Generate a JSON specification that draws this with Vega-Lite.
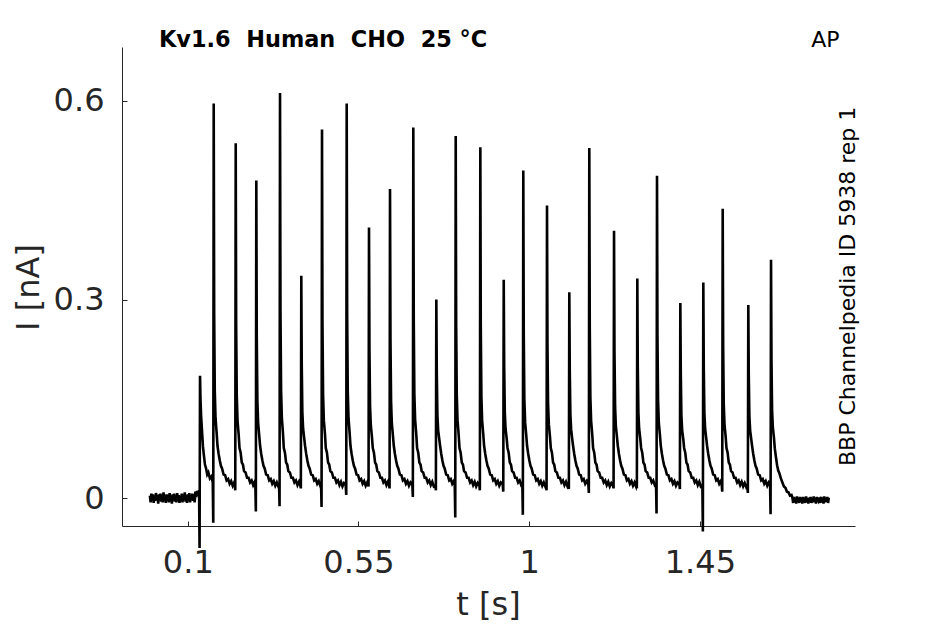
{
  "$schema": "https://vega.github.io/schema/vega-lite/v6.json",
  "width": 733,
  "height": 479,
  "autosize": {"type": "none"},
  "padding": {"left": 122, "top": 47, "right": 90, "bottom": 98},
  "background": "white",
  "config": {"view": {"stroke": null}, "font": "DejaVu Sans"},
  "title": {
    "text": "Kv1.6\u00a0 Human\u00a0 CHO\u00a0 25 °C",
    "anchor": "start",
    "frame": "group",
    "font": "DejaVu Sans",
    "fontSize": 22.4,
    "fontWeight": "bold",
    "color": "black",
    "baseline": "alphabetic",
    "offset": 0,
    "dx": 37,
    "dy": 40
  },
  "datasets": {
    "trace": [
      {"t":0.000,"i":0.004},{"t":0.002,"i":-0.006},{"t":0.004,"i":0.007},{"t":0.006,"i":-0.003},{"t":0.008,"i":0.006},
      {"t":0.010,"i":-0.007},{"t":0.012,"i":0.003},{"t":0.014,"i":-0.004},{"t":0.016,"i":0.008},{"t":0.018,"i":-0.002},
      {"t":0.020,"i":0.005},{"t":0.022,"i":-0.008},{"t":0.024,"i":0.006},{"t":0.026,"i":0.000},{"t":0.028,"i":0.007},
      {"t":0.030,"i":-0.005},{"t":0.032,"i":0.002},{"t":0.034,"i":-0.006},{"t":0.036,"i":0.009},{"t":0.038,"i":-0.003},
      {"t":0.040,"i":0.004},{"t":0.042,"i":-0.007},{"t":0.044,"i":0.006},{"t":0.046,"i":-0.001},{"t":0.048,"i":0.005},
      {"t":0.050,"i":-0.006},{"t":0.052,"i":0.008},{"t":0.054,"i":-0.004},{"t":0.056,"i":0.003},{"t":0.058,"i":-0.008},
      {"t":0.060,"i":0.006},{"t":0.062,"i":-0.002},{"t":0.064,"i":0.007},{"t":0.066,"i":-0.005},{"t":0.068,"i":0.004},
      {"t":0.070,"i":-0.006},{"t":0.072,"i":0.008},{"t":0.074,"i":-0.003},{"t":0.076,"i":0.005},{"t":0.078,"i":-0.007},
      {"t":0.080,"i":0.002},{"t":0.082,"i":-0.004},{"t":0.084,"i":0.007},{"t":0.086,"i":-0.006},{"t":0.088,"i":0.006},
      {"t":0.090,"i":-0.002},{"t":0.092,"i":0.009},{"t":0.094,"i":-0.005},{"t":0.096,"i":0.004},{"t":0.098,"i":-0.007},
      {"t":0.100,"i":0.006},{"t":0.102,"i":-0.003},{"t":0.104,"i":0.008},{"t":0.106,"i":-0.006},{"t":0.108,"i":0.005},
      {"t":0.110,"i":-0.001},{"t":0.112,"i":0.007},{"t":0.114,"i":-0.004},{"t":0.116,"i":0.006},{"t":0.118,"i":-0.006},
      {"t":0.120,"i":0.010},{"t":0.122,"i":0.002},{"t":0.124,"i":0.011},{"t":0.126,"i":0.004},{"t":0.128,"i":0.009},
      {"t":0.1297,"i":0.012},

      {"t":0.1310,"i":-0.075},{"t":0.1322,"i":0.185},{"t":0.1334,"i":0.150},{"t":0.1350,"i":0.125},{"t":0.1370,"i":0.106},
      {"t":0.1400,"i":0.078},{"t":0.1422,"i":0.066},{"t":0.1452,"i":0.051},{"t":0.1482,"i":0.045},{"t":0.1512,"i":0.036},
      {"t":0.1542,"i":0.039},{"t":0.1582,"i":0.030},{"t":0.1622,"i":0.033},{"t":0.1658,"i":0.024},

      {"t":0.1671,"i":-0.037},{"t":0.1683,"i":0.596},{"t":0.1695,"i":0.279},{"t":0.1711,"i":0.162},{"t":0.1731,"i":0.121},
      {"t":0.1761,"i":0.098},{"t":0.1783,"i":0.079},{"t":0.1813,"i":0.067},{"t":0.1843,"i":0.057},{"t":0.1873,"i":0.049},
      {"t":0.1903,"i":0.045},{"t":0.1943,"i":0.036},{"t":0.1983,"i":0.035},{"t":0.2023,"i":0.027},{"t":0.2063,"i":0.029},
      {"t":0.2103,"i":0.022},{"t":0.2143,"i":0.026},{"t":0.2183,"i":0.019},{"t":0.2223,"i":0.024},{"t":0.2238,"i":0.020},

      {"t":0.2251,"i":0.012},{"t":0.2263,"i":0.536},{"t":0.2275,"i":0.261},{"t":0.2291,"i":0.154},{"t":0.2311,"i":0.117},
      {"t":0.2341,"i":0.096},{"t":0.2363,"i":0.076},{"t":0.2393,"i":0.069},{"t":0.2423,"i":0.054},{"t":0.2453,"i":0.051},
      {"t":0.2483,"i":0.041},{"t":0.2523,"i":0.039},{"t":0.2563,"i":0.031},{"t":0.2603,"i":0.031},{"t":0.2643,"i":0.024},
      {"t":0.2683,"i":0.027},{"t":0.2723,"i":0.020},{"t":0.2763,"i":0.025},{"t":0.2781,"i":0.019},

      {"t":0.2794,"i":-0.020},{"t":0.2806,"i":0.480},{"t":0.2818,"i":0.244},{"t":0.2834,"i":0.148},{"t":0.2854,"i":0.114},
      {"t":0.2884,"i":0.094},{"t":0.2906,"i":0.079},{"t":0.2936,"i":0.067},{"t":0.2966,"i":0.057},{"t":0.2996,"i":0.049},
      {"t":0.3026,"i":0.045},{"t":0.3066,"i":0.036},{"t":0.3106,"i":0.035},{"t":0.3146,"i":0.027},{"t":0.3186,"i":0.029},
      {"t":0.3226,"i":0.022},{"t":0.3266,"i":0.026},{"t":0.3306,"i":0.019},{"t":0.3346,"i":0.024},{"t":0.3386,"i":0.018},
      {"t":0.3406,"i":0.021},

      {"t":0.3419,"i":-0.012},{"t":0.3431,"i":0.612},{"t":0.3443,"i":0.284},{"t":0.3459,"i":0.163},{"t":0.3479,"i":0.122},
      {"t":0.3509,"i":0.098},{"t":0.3531,"i":0.076},{"t":0.3561,"i":0.069},{"t":0.3591,"i":0.054},{"t":0.3621,"i":0.051},
      {"t":0.3651,"i":0.041},{"t":0.3691,"i":0.039},{"t":0.3731,"i":0.031},{"t":0.3771,"i":0.031},{"t":0.3811,"i":0.024},
      {"t":0.3851,"i":0.027},{"t":0.3891,"i":0.020},{"t":0.3931,"i":0.025},{"t":0.3967,"i":0.019},

      {"t":0.3980,"i":0.015},{"t":0.3992,"i":0.336},{"t":0.4004,"i":0.201},{"t":0.4020,"i":0.130},{"t":0.4040,"i":0.105},
      {"t":0.4070,"i":0.090},{"t":0.4092,"i":0.079},{"t":0.4122,"i":0.067},{"t":0.4152,"i":0.057},{"t":0.4182,"i":0.049},
      {"t":0.4212,"i":0.045},{"t":0.4252,"i":0.036},{"t":0.4292,"i":0.035},{"t":0.4332,"i":0.027},{"t":0.4372,"i":0.029},
      {"t":0.4412,"i":0.022},{"t":0.4452,"i":0.026},{"t":0.4492,"i":0.019},{"t":0.4513,"i":0.023},

      {"t":0.4526,"i":-0.013},{"t":0.4538,"i":0.557},{"t":0.4550,"i":0.267},{"t":0.4566,"i":0.157},{"t":0.4586,"i":0.118},
      {"t":0.4616,"i":0.097},{"t":0.4638,"i":0.076},{"t":0.4668,"i":0.069},{"t":0.4698,"i":0.054},{"t":0.4728,"i":0.051},
      {"t":0.4758,"i":0.041},{"t":0.4798,"i":0.039},{"t":0.4838,"i":0.031},{"t":0.4878,"i":0.031},{"t":0.4918,"i":0.024},
      {"t":0.4958,"i":0.027},{"t":0.4998,"i":0.020},{"t":0.5038,"i":0.025},{"t":0.5078,"i":0.018},{"t":0.5118,"i":0.023},
      {"t":0.5164,"i":0.020},

      {"t":0.5177,"i":0.005},{"t":0.5189,"i":0.596},{"t":0.5201,"i":0.279},{"t":0.5217,"i":0.162},{"t":0.5237,"i":0.121},
      {"t":0.5267,"i":0.098},{"t":0.5289,"i":0.079},{"t":0.5319,"i":0.067},{"t":0.5349,"i":0.057},{"t":0.5379,"i":0.049},
      {"t":0.5409,"i":0.045},{"t":0.5449,"i":0.036},{"t":0.5489,"i":0.035},{"t":0.5529,"i":0.027},{"t":0.5569,"i":0.029},
      {"t":0.5609,"i":0.022},{"t":0.5649,"i":0.026},{"t":0.5689,"i":0.019},{"t":0.5729,"i":0.024},{"t":0.5752,"i":0.021},

      {"t":0.5765,"i":0.018},{"t":0.5777,"i":0.409},{"t":0.5789,"i":0.223},{"t":0.5805,"i":0.139},{"t":0.5825,"i":0.110},
      {"t":0.5855,"i":0.092},{"t":0.5877,"i":0.076},{"t":0.5907,"i":0.069},{"t":0.5937,"i":0.054},{"t":0.5967,"i":0.051},
      {"t":0.5997,"i":0.041},{"t":0.6037,"i":0.039},{"t":0.6077,"i":0.031},{"t":0.6117,"i":0.031},{"t":0.6157,"i":0.024},
      {"t":0.6197,"i":0.027},{"t":0.6237,"i":0.020},{"t":0.6277,"i":0.025},{"t":0.6306,"i":0.020},

      {"t":0.6319,"i":0.015},{"t":0.6331,"i":0.467},{"t":0.6343,"i":0.240},{"t":0.6359,"i":0.146},{"t":0.6379,"i":0.113},
      {"t":0.6409,"i":0.094},{"t":0.6431,"i":0.079},{"t":0.6461,"i":0.067},{"t":0.6491,"i":0.057},{"t":0.6521,"i":0.049},
      {"t":0.6551,"i":0.045},{"t":0.6591,"i":0.036},{"t":0.6631,"i":0.035},{"t":0.6671,"i":0.027},{"t":0.6711,"i":0.029},
      {"t":0.6751,"i":0.022},{"t":0.6791,"i":0.026},{"t":0.6831,"i":0.019},{"t":0.6871,"i":0.024},{"t":0.6920,"i":0.021},

      {"t":0.6933,"i":0.002},{"t":0.6945,"i":0.560},{"t":0.6957,"i":0.268},{"t":0.6973,"i":0.157},{"t":0.6993,"i":0.119},
      {"t":0.7023,"i":0.097},{"t":0.7045,"i":0.076},{"t":0.7075,"i":0.069},{"t":0.7105,"i":0.054},{"t":0.7135,"i":0.051},
      {"t":0.7165,"i":0.041},{"t":0.7205,"i":0.039},{"t":0.7245,"i":0.031},{"t":0.7285,"i":0.031},{"t":0.7325,"i":0.024},
      {"t":0.7365,"i":0.027},{"t":0.7405,"i":0.020},{"t":0.7445,"i":0.025},{"t":0.7485,"i":0.018},{"t":0.7527,"i":0.020},

      {"t":0.7540,"i":0.012},{"t":0.7552,"i":0.300},{"t":0.7564,"i":0.190},{"t":0.7580,"i":0.126},{"t":0.7600,"i":0.103},
      {"t":0.7630,"i":0.089},{"t":0.7652,"i":0.079},{"t":0.7682,"i":0.067},{"t":0.7712,"i":0.057},{"t":0.7742,"i":0.049},
      {"t":0.7772,"i":0.045},{"t":0.7812,"i":0.036},{"t":0.7852,"i":0.035},{"t":0.7892,"i":0.027},{"t":0.7932,"i":0.029},
      {"t":0.7972,"i":0.022},{"t":0.8012,"i":0.026},{"t":0.8038,"i":0.020},

      {"t":0.8051,"i":-0.029},{"t":0.8063,"i":0.547},{"t":0.8075,"i":0.264},{"t":0.8091,"i":0.156},{"t":0.8111,"i":0.118},
      {"t":0.8141,"i":0.096},{"t":0.8163,"i":0.076},{"t":0.8193,"i":0.069},{"t":0.8223,"i":0.054},{"t":0.8253,"i":0.051},
      {"t":0.8283,"i":0.041},{"t":0.8323,"i":0.039},{"t":0.8363,"i":0.031},{"t":0.8403,"i":0.031},{"t":0.8443,"i":0.024},
      {"t":0.8483,"i":0.027},{"t":0.8523,"i":0.020},{"t":0.8563,"i":0.025},{"t":0.8603,"i":0.018},{"t":0.8643,"i":0.023},
      {"t":0.8687,"i":0.019},

      {"t":0.8700,"i":0.012},{"t":0.8712,"i":0.530},{"t":0.8724,"i":0.259},{"t":0.8740,"i":0.154},{"t":0.8760,"i":0.117},
      {"t":0.8790,"i":0.096},{"t":0.8812,"i":0.079},{"t":0.8842,"i":0.067},{"t":0.8872,"i":0.057},{"t":0.8902,"i":0.049},
      {"t":0.8932,"i":0.045},{"t":0.8972,"i":0.036},{"t":0.9012,"i":0.035},{"t":0.9052,"i":0.027},{"t":0.9092,"i":0.029},
      {"t":0.9132,"i":0.022},{"t":0.9172,"i":0.026},{"t":0.9212,"i":0.019},{"t":0.9252,"i":0.024},{"t":0.9304,"i":0.021},

      {"t":0.9317,"i":0.010},{"t":0.9329,"i":0.330},{"t":0.9341,"i":0.199},{"t":0.9357,"i":0.130},{"t":0.9377,"i":0.105},
      {"t":0.9407,"i":0.090},{"t":0.9429,"i":0.076},{"t":0.9459,"i":0.069},{"t":0.9489,"i":0.054},{"t":0.9519,"i":0.051},
      {"t":0.9549,"i":0.041},{"t":0.9589,"i":0.039},{"t":0.9629,"i":0.031},{"t":0.9669,"i":0.031},{"t":0.9709,"i":0.024},
      {"t":0.9749,"i":0.027},{"t":0.9789,"i":0.020},{"t":0.9820,"i":0.022},

      {"t":0.9833,"i":-0.025},{"t":0.9845,"i":0.495},{"t":0.9857,"i":0.249},{"t":0.9873,"i":0.149},{"t":0.9893,"i":0.115},
      {"t":0.9923,"i":0.095},{"t":0.9945,"i":0.079},{"t":0.9975,"i":0.067},{"t":1.0005,"i":0.057},{"t":1.0035,"i":0.049},
      {"t":1.0065,"i":0.045},{"t":1.0105,"i":0.036},{"t":1.0145,"i":0.035},{"t":1.0185,"i":0.027},{"t":1.0225,"i":0.029},
      {"t":1.0265,"i":0.022},{"t":1.0305,"i":0.026},{"t":1.0345,"i":0.019},{"t":1.0385,"i":0.024},{"t":1.0425,"i":0.018},
      {"t":1.0445,"i":0.021},

      {"t":1.0458,"i":0.012},{"t":1.0470,"i":0.442},{"t":1.0482,"i":0.233},{"t":1.0498,"i":0.143},{"t":1.0518,"i":0.112},
      {"t":1.0548,"i":0.093},{"t":1.0570,"i":0.076},{"t":1.0600,"i":0.069},{"t":1.0630,"i":0.054},{"t":1.0660,"i":0.051},
      {"t":1.0690,"i":0.041},{"t":1.0730,"i":0.039},{"t":1.0770,"i":0.031},{"t":1.0810,"i":0.031},{"t":1.0850,"i":0.024},
      {"t":1.0890,"i":0.027},{"t":1.0930,"i":0.020},{"t":1.0970,"i":0.025},{"t":1.1010,"i":0.018},{"t":1.1033,"i":0.020},

      {"t":1.1046,"i":0.014},{"t":1.1058,"i":0.311},{"t":1.1070,"i":0.193},{"t":1.1086,"i":0.127},{"t":1.1106,"i":0.104},
      {"t":1.1136,"i":0.089},{"t":1.1158,"i":0.079},{"t":1.1188,"i":0.067},{"t":1.1218,"i":0.057},{"t":1.1248,"i":0.049},
      {"t":1.1278,"i":0.045},{"t":1.1318,"i":0.036},{"t":1.1358,"i":0.035},{"t":1.1398,"i":0.027},{"t":1.1438,"i":0.029},
      {"t":1.1478,"i":0.022},{"t":1.1518,"i":0.026},{"t":1.1560,"i":0.021},

      {"t":1.1573,"i":0.008},{"t":1.1585,"i":0.529},{"t":1.1597,"i":0.259},{"t":1.1613,"i":0.153},{"t":1.1633,"i":0.117},
      {"t":1.1663,"i":0.096},{"t":1.1685,"i":0.076},{"t":1.1715,"i":0.069},{"t":1.1745,"i":0.054},{"t":1.1775,"i":0.051},
      {"t":1.1805,"i":0.041},{"t":1.1845,"i":0.039},{"t":1.1885,"i":0.031},{"t":1.1925,"i":0.031},{"t":1.1965,"i":0.024},
      {"t":1.2005,"i":0.027},{"t":1.2045,"i":0.020},{"t":1.2085,"i":0.025},{"t":1.2125,"i":0.018},{"t":1.2165,"i":0.023},
      {"t":1.2212,"i":0.019},

      {"t":1.2225,"i":0.015},{"t":1.2237,"i":0.404},{"t":1.2249,"i":0.221},{"t":1.2265,"i":0.138},{"t":1.2285,"i":0.109},
      {"t":1.2315,"i":0.092},{"t":1.2337,"i":0.079},{"t":1.2367,"i":0.067},{"t":1.2397,"i":0.057},{"t":1.2427,"i":0.049},
      {"t":1.2457,"i":0.045},{"t":1.2497,"i":0.036},{"t":1.2537,"i":0.035},{"t":1.2577,"i":0.027},{"t":1.2617,"i":0.029},
      {"t":1.2657,"i":0.022},{"t":1.2697,"i":0.026},{"t":1.2737,"i":0.019},{"t":1.2777,"i":0.024},{"t":1.2817,"i":0.018},
      {"t":1.2826,"i":0.021},

      {"t":1.2839,"i":0.015},{"t":1.2851,"i":0.332},{"t":1.2863,"i":0.200},{"t":1.2879,"i":0.130},{"t":1.2899,"i":0.105},
      {"t":1.2929,"i":0.090},{"t":1.2951,"i":0.076},{"t":1.2981,"i":0.069},{"t":1.3011,"i":0.054},{"t":1.3041,"i":0.051},
      {"t":1.3071,"i":0.041},{"t":1.3111,"i":0.039},{"t":1.3151,"i":0.031},{"t":1.3191,"i":0.031},{"t":1.3231,"i":0.024},
      {"t":1.3271,"i":0.027},{"t":1.3311,"i":0.020},{"t":1.3345,"i":0.022},

      {"t":1.3358,"i":-0.023},{"t":1.3370,"i":0.487},{"t":1.3382,"i":0.246},{"t":1.3398,"i":0.148},{"t":1.3418,"i":0.114},
      {"t":1.3448,"i":0.095},{"t":1.3470,"i":0.079},{"t":1.3500,"i":0.067},{"t":1.3530,"i":0.057},{"t":1.3560,"i":0.049},
      {"t":1.3590,"i":0.045},{"t":1.3630,"i":0.036},{"t":1.3670,"i":0.035},{"t":1.3710,"i":0.027},{"t":1.3750,"i":0.029},
      {"t":1.3790,"i":0.022},{"t":1.3830,"i":0.026},{"t":1.3870,"i":0.019},{"t":1.3910,"i":0.024},{"t":1.3960,"i":0.021},

      {"t":1.3973,"i":0.014},{"t":1.3985,"i":0.295},{"t":1.3997,"i":0.189},{"t":1.4013,"i":0.125},{"t":1.4033,"i":0.103},
      {"t":1.4063,"i":0.089},{"t":1.4085,"i":0.076},{"t":1.4115,"i":0.069},{"t":1.4145,"i":0.054},{"t":1.4175,"i":0.051},
      {"t":1.4205,"i":0.041},{"t":1.4245,"i":0.039},{"t":1.4285,"i":0.031},{"t":1.4325,"i":0.031},{"t":1.4365,"i":0.024},
      {"t":1.4405,"i":0.027},{"t":1.4445,"i":0.020},{"t":1.4485,"i":0.025},{"t":1.4525,"i":0.018},{"t":1.4566,"i":0.020},

      {"t":1.4579,"i":-0.050},{"t":1.4591,"i":0.326},{"t":1.4603,"i":0.198},{"t":1.4619,"i":0.129},{"t":1.4639,"i":0.105},
      {"t":1.4669,"i":0.090},{"t":1.4691,"i":0.079},{"t":1.4721,"i":0.067},{"t":1.4751,"i":0.057},{"t":1.4781,"i":0.049},
      {"t":1.4811,"i":0.045},{"t":1.4851,"i":0.036},{"t":1.4891,"i":0.035},{"t":1.4931,"i":0.027},{"t":1.4971,"i":0.029},
      {"t":1.5011,"i":0.022},{"t":1.5051,"i":0.026},{"t":1.5077,"i":0.020},

      {"t":1.5090,"i":0.010},{"t":1.5102,"i":0.437},{"t":1.5114,"i":0.231},{"t":1.5130,"i":0.142},{"t":1.5150,"i":0.111},
      {"t":1.5180,"i":0.093},{"t":1.5202,"i":0.076},{"t":1.5232,"i":0.069},{"t":1.5262,"i":0.054},{"t":1.5292,"i":0.051},
      {"t":1.5322,"i":0.041},{"t":1.5362,"i":0.039},{"t":1.5402,"i":0.031},{"t":1.5442,"i":0.031},{"t":1.5482,"i":0.024},
      {"t":1.5522,"i":0.027},{"t":1.5562,"i":0.020},{"t":1.5602,"i":0.025},{"t":1.5642,"i":0.018},{"t":1.5682,"i":0.023},
      {"t":1.5722,"i":0.017},{"t":1.5752,"i":0.020},

      {"t":1.5765,"i":0.008},{"t":1.5777,"i":0.292},{"t":1.5789,"i":0.188},{"t":1.5805,"i":0.125},{"t":1.5825,"i":0.103},
      {"t":1.5855,"i":0.089},{"t":1.5877,"i":0.079},{"t":1.5907,"i":0.067},{"t":1.5937,"i":0.057},{"t":1.5967,"i":0.049},
      {"t":1.5997,"i":0.045},{"t":1.6037,"i":0.036},{"t":1.6077,"i":0.035},{"t":1.6117,"i":0.027},{"t":1.6157,"i":0.029},
      {"t":1.6197,"i":0.022},{"t":1.6237,"i":0.026},{"t":1.6277,"i":0.019},{"t":1.6317,"i":0.024},{"t":1.6351,"i":0.021},

      {"t":1.6364,"i":-0.024},{"t":1.6376,"i":0.360},{"t":1.6388,"i":0.208},{"t":1.6404,"i":0.133},{"t":1.6424,"i":0.107},
      {"t":1.6454,"i":0.091},{"t":1.6476,"i":0.075},{"t":1.6506,"i":0.062},{"t":1.6536,"i":0.050},{"t":1.6566,"i":0.042},
      {"t":1.6596,"i":0.038},{"t":1.6636,"i":0.030},{"t":1.6676,"i":0.024},{"t":1.6716,"i":0.018},{"t":1.6756,"i":0.016},
      {"t":1.6796,"i":0.010},{"t":1.6836,"i":0.009},{"t":1.6876,"i":0.004},{"t":1.6916,"i":0.005},

      {"t":1.694,"i":0.001},{"t":1.696,"i":-0.007},{"t":1.698,"i":0.002},{"t":1.700,"i":-0.006},{"t":1.702,"i":0.000},
      {"t":1.704,"i":-0.008},{"t":1.706,"i":0.003},{"t":1.708,"i":-0.005},{"t":1.710,"i":-0.001},{"t":1.712,"i":-0.007},
      {"t":1.714,"i":0.002},{"t":1.716,"i":-0.004},{"t":1.718,"i":0.001},{"t":1.720,"i":-0.008},{"t":1.722,"i":0.002},
      {"t":1.724,"i":-0.006},{"t":1.726,"i":-0.001},{"t":1.728,"i":-0.007},{"t":1.730,"i":0.003},{"t":1.732,"i":-0.005},
      {"t":1.734,"i":0.000},{"t":1.736,"i":-0.008},{"t":1.738,"i":0.001},{"t":1.740,"i":-0.004},{"t":1.742,"i":0.002},
      {"t":1.744,"i":-0.007},{"t":1.746,"i":-0.001},{"t":1.748,"i":-0.006},{"t":1.750,"i":0.003},{"t":1.752,"i":-0.005},
      {"t":1.754,"i":0.000},{"t":1.756,"i":-0.008},{"t":1.758,"i":0.002},{"t":1.760,"i":-0.006},{"t":1.762,"i":0.001},
      {"t":1.764,"i":-0.004},{"t":1.766,"i":-0.002},{"t":1.768,"i":-0.007},{"t":1.770,"i":0.002},{"t":1.772,"i":-0.005},
      {"t":1.774,"i":0.001},{"t":1.776,"i":-0.008},{"t":1.778,"i":0.003},{"t":1.780,"i":-0.006},{"t":1.782,"i":0.000},
      {"t":1.784,"i":-0.005},{"t":1.786,"i":0.002},{"t":1.788,"i":-0.007},{"t":1.790,"i":0.001}
    ],
    "notes": [
      {"label": "AP", "t": 1.781, "i": 0.6814, "angle": 0},
      {"label": "BBP Channelpedia ID 5938 rep 1", "t": 1.859, "i": 0.32, "angle": 270}
    ]
  },
  "layer": [
    {
      "data": {"name": "trace"},
      "mark": {"type": "line", "color": "black", "strokeWidth": 2.6, "clip": false},
      "encoding": {
        "x": {
          "field": "t",
          "type": "quantitative",
          "sort": null,
          "scale": {"domain": [-0.0735, 1.859], "nice": false, "zero": false},
          "axis": {
            "title": "t [s]",
            "values": [0.1, 0.55, 1, 1.45],
            "format": ".3~g",
            "grid": false,
            "domainColor": "#262626",
            "tickColor": "#262626",
            "tickSize": -5,
            "labelFont": "DejaVu Sans",
            "labelFontSize": 32,
            "labelColor": "#262626",
            "labelPadding": 26,
            "titleFont": "DejaVu Sans",
            "titleFontSize": 32,
            "titleFontWeight": "normal",
            "titleColor": "#262626",
            "titleBaseline": "alphabetic",
            "titleX": 366,
            "titleY": 88
          }
        },
        "y": {
          "field": "i",
          "type": "quantitative",
          "scale": {"domain": [-0.0418, 0.6814], "nice": false, "zero": false},
          "axis": {
            "title": "I [nA]",
            "values": [0, 0.3, 0.6],
            "format": ".3~g",
            "grid": false,
            "domainColor": "#262626",
            "tickColor": "#262626",
            "tickSize": -5,
            "labelFont": "DejaVu Sans",
            "labelFontSize": 32,
            "labelColor": "#262626",
            "labelPadding": 23,
            "titleFont": "DejaVu Sans",
            "titleFontSize": 32,
            "titleFontWeight": "normal",
            "titleColor": "#262626",
            "titleBaseline": "alphabetic",
            "titleAngle": -90,
            "titleX": -84,
            "titleY": 240
          }
        }
      }
    },
    {
      "data": {"name": "notes"},
      "mark": {"type": "text", "color": "black", "font": "DejaVu Sans", "fontSize": 22, "baseline": "alphabetic", "align": "center", "clip": false},
      "encoding": {
        "x": {"field": "t", "type": "quantitative"},
        "y": {"field": "i", "type": "quantitative"},
        "text": {"field": "label"},
        "angle": {"field": "angle", "type": "quantitative", "scale": null}
      }
    }
  ]
}
